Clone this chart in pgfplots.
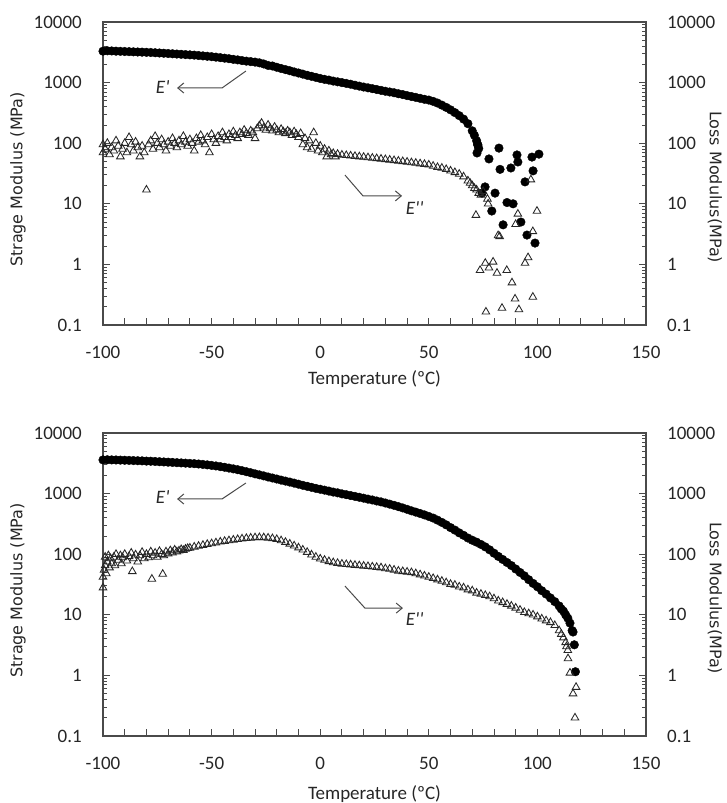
\documentclass[border=0pt]{standalone}
\usepackage{fontspec}
\setmainfont{Carlito}
\newfontfamily\labelfont{DejaVu Sans}
\usepackage{pgfplots}
\usepackage{pgfplotstable}
\pgfplotsset{compat=1.18}
\usetikzlibrary{arrows.meta}

\definecolor{axisgray}{HTML}{4A4A4A}
\definecolor{txt}{HTML}{262626}

% top panel, E' and E''
\pgfplotstableread{
T E
-100 3300
-98 3350
-96 3330
-94 3300
-92 3280
-90 3260
-88 3240
-86 3220
-84 3200
-82 3180
-80 3160
-78 3140
-76 3110
-74 3080
-72 3050
-70 3020
-68 2990
-66 2960
-64 2930
-62 2900
-60 2870
-58 2840
-56 2800
-54 2760
-52 2720
-50 2680
-48 2630
-46 2580
-44 2530
-42 2480
-40 2420
-38 2370
-36 2310
-34 2260
-32 2220
-30 2180
-28 2120
-26 2030
-24 1920
-22 1880
-20 1790
-18 1710
-16 1640
-14 1570
-12 1500
-10 1440
-8 1380
-6 1320
-4 1270
-2 1220
0 1170
2 1130
4 1100
6 1060
8 1030
10 1000
12 970
14 940
16 905
18 875
20 845
22 820
24 795
26 770
28 745
30 720
32 700
34 680
36 655
38 635
40 610
42 590
44 570
46 550
48 530
50 515
52 490
54 460
56 425
58 390
60 355
62 320
64 285
66 250
68 210
70 160
71 135
72 110
72.5 95
73 82
72.6 93
72.2 69
82.3 83
77.7 55
82.8 37
87.8 39
90.6 64
91 49
97.5 59
100.7 66
98 35
94.3 23
75.9 19
74.5 15
80.5 15
86 10.5
88.8 10
79 7.6
92.4 5
84.2 4.5
95.2 3.05
98.9 2.25
}\topstorage

\pgfplotstableread{
T E
-100 95
-100 70
-99 80
-98 100
-97 65
-96 85
-95 75
-94 110
-93 90
-92 60
-91 80
-90 100
-89 70
-88 125
-87 95
-86 75
-85 105
-84 85
-83 60
-82 90
-81 70
-80 17
-79 95
-78 110
-77 80
-76 130
-75 100
-74 85
-73 115
-72 95
-71 75
-70 105
-69 90
-68 120
-67 100
-66 85
-65 110
-64 95
-63 130
-62 105
-61 90
-60 115
-59 100
-58 75
-57 120
-56 105
-55 135
-54 110
-53 95
-52 125
-51 70
-50 140
-49 115
-48 100
-47 130
-46 115
-45 150
-44 125
-43 110
-42 140
-41 125
-40 155
-39 135
-38 120
-37 150
-36 140
-35 165
-34 145
-33 135
-32 160
-31 150
-30 120
-29 175
-28 195
-27 215
-26 180
-25 165
-24 200
-23 175
-22 160
-21 185
-20 165
-19 150
-18 170
-17 155
-16 145
-15 160
-14 150
-13 135
-12 155
-11 140
-10 125
-9 145
-8 95
-7 120
-6 85
-5 110
-4 80
-3 150
-2 100
-1 75
0 90
1 70
2 80
3 60
4 75
5 65
6 68
7 60
8 66
10 64
12 63
14 62
16 61
18 60
20 59
22 58
24 57
26 56
28 55
30 54
32 53
34 52
36 51
38 50
40 49
42 48
44 47
46 46
48 45
50 44
52 42
54 40
56 39
58 37
60 35
62 33
64 31
66 28
68 24
69 22
70 20
71 18
72 17
73 15
74 14
71.7 6.5
77.3 10
99.8 7.6
91 6.8
90 4.6
97.9 3.5
81.9 3.0
82.6 2.9
95.7 1.3
94.3 1.05
76 1.05
79.6 1.1
73.6 0.8
77.7 0.88
81.4 0.72
85.9 0.8
88.3 0.5
89.7 0.27
97.9 0.29
83.7 0.19
76.3 0.165
91.5 0.18
97 25
75 16
77 12
}\toploss

% bottom panel
\pgfplotstableread{
T E
-100 3600
-98 3620
-96 3600
-94 3590
-92 3570
-90 3550
-88 3530
-86 3510
-84 3490
-82 3470
-80 3440
-78 3420
-76 3390
-74 3360
-72 3330
-70 3300
-68 3270
-66 3240
-64 3210
-62 3180
-60 3150
-58 3120
-56 3080
-54 3030
-52 2980
-50 2920
-48 2860
-46 2790
-44 2720
-42 2640
-40 2560
-38 2480
-36 2390
-34 2300
-32 2210
-30 2120
-28 2040
-26 1960
-24 1880
-22 1810
-20 1740
-18 1670
-16 1610
-14 1550
-12 1490
-10 1430
-8 1370
-6 1320
-4 1270
-2 1220
0 1180
2 1140
4 1100
6 1060
8 1030
10 990
12 960
14 930
16 900
18 870
20 840
22 810
24 785
26 755
28 730
30 700
32 670
34 640
36 610
38 580
40 550
42 520
44 495
46 470
48 445
50 420
52 395
54 365
56 335
58 305
60 275
62 250
64 225
66 205
68 185
70 170
72 158
74 145
76 132
78 118
80 104
82 92
84 82
86 73
88 65
90 57
92 50
94 44
96 38
98 33
100 29
102 25
104 22
106 19
108 16.5
110 14
111 12.5
112 11.5
113 10
114 8.8
115 7.3
116 5.5
116.4 5.2
117 3.2
117.5 1.15
}\botstorage

\pgfplotstableread{
T E
-100 28
-100 42
-99.5 55
-99 65
-99 90
-98.5 48
-98 75
-97.5 95
-97 60
-96.5 85
-96 70
-95 90
-94.5 65
-94 100
-93 80
-92 95
-91.5 70
-91 88
-90 100
-89 78
-88 92
-87 105
-86.5 52
-86 85
-85 98
-84 75
-83 95
-82 108
-81 85
-80 100
-79 88
-78 110
-77.5 39
-77 95
-76 105
-75 90
-74 112
-73 100
-72.5 47
-72 95
-71 110
-70 102
-69 115
-68 106
-67 118
-66 110
-65 114
-64 120
-63 116
-62 122
-61 125
-60 127
-58 132
-56 136
-54 141
-52 146
-50 150
-48 155
-46 160
-44 164
-42 168
-40 172
-38 176
-36 180
-34 183
-32 186
-30 188
-28 189
-26 188
-24 186
-22 182
-20 176
-18 168
-16 158
-14 148
-12 138
-10 128
-8 118
-6 108
-4 98
-2 90
0 84
2 80
4 76
6 73
8 71
10 69
12 68
14 67
16 66
18 65
20 64
22 63
24 62
26 61
28 60
30 58
32 57
34 55
36 53
38 52
40 51
42 50
44 48
46 46
48 44
50 42
52 40
54 38
56 36
58 34
60 32
62 31
64 29
66 28
68 26
70 25
72 23
74 22
76 21
78 20
80 18.5
82 17
84 16
86 15
88 14
90 13
92 12
94 11
96 10.5
98 10
100 9.3
102 8.6
104 8
106 7.5
108 6.7
110 5.5
111 4.8
112 4.2
113 3.5
113.4 3.0
114 2.6
114.1 1.9
115 1.1
116.4 0.5
117.8 0.64
117.3 0.2
}\botloss

\tikzset{
  mystor/.style={mark=*, mark size=4.3pt, mark options={fill=black, draw=black}},
  myloss/.style={mark=triangle, mark size=4.4pt, mark options={draw=black!85, line width=0.85pt, fill=none}},
  myann/.style={draw=axisgray, line width=1pt},
  etext/.style={font=\fontsize{19}{22}\selectfont\itshape, text=txt},
}

\begin{document}
\begin{tikzpicture}
\useasboundingbox (0,0) rectangle (726pt,-803pt);

% ---------- upper panel ----------
\begin{axis}[at={(103pt,-325pt)}, anchor=south west,
    scale only axis, width=543pt, height=303pt,
    xmin=-100, xmax=150, ymode=log, ymin=0.1, ymax=10000,
    axis line style={axisgray, line width=1.1pt},
    tick style={axisgray, line width=0.9pt},
    major tick length=7pt, minor tick length=4pt,
    tick align=inside,
    ytick={0.1,1,10,100,1000,10000},
    yticklabels={0.1,1,10,100,1000,10000},
    minor ytick={0.2,0.3,0.4,0.5,0.6,0.7,0.8,0.9,2,3,4,5,6,7,8,9,20,30,40,50,60,70,80,90,200,300,400,500,600,700,800,900,2000,3000,4000,5000,6000,7000,8000,9000},
    xtick={-100,-90,...,150},
    xticklabels={-100,,,,,-50,,,,,0,,,,,50,,,,,100,,,,,150},
    xtick pos=bottom, ytick pos=left,
    ticklabel style={font=\fontsize{19}{22}\selectfont, text=txt, inner sep=0pt},
    xticklabel style={anchor=center, yshift=-27pt},
    yticklabel style={anchor=east, xshift=-21pt},
    xlabel={Temperature (ºC)},
    xlabel style={font=\fontsize{19}{22}\selectfont, text=txt, at={(axis description cs:0.5,-0.18)}, anchor=center},
    ylabel={\labelfont Strage Modulus (MPa)},
    ylabel style={font=\fontsize{16}{18}\selectfont, text=txt, at={(axis description cs:-0.1565,0.48)}, anchor=center},
    ]
\addplot[only marks, mystor] table[x=T, y=E] {\topstorage};
\addplot[only marks, myloss] table[x=T, y=E] {\toploss};
\draw[myann, -{Straight Barb[length=6pt, width=10pt]}] (axis cs:-34.2,1552) -- (axis cs:-45.2,815) -- (axis cs:-65.9,815);
\node[etext] at (axis cs:-72.5,845) {E\textquotesingle};
\draw[myann, -{Straight Barb[length=6pt, width=10pt]}] (axis cs:11.4,29.8) -- (axis cs:19.7,13.5) -- (axis cs:37.7,13.5);
\node[etext] at (axis cs:43.5,8.5) {E\textquotesingle\textquotesingle};
\end{axis}
\begin{axis}[at={(103pt,-325pt)}, anchor=south west,
    scale only axis, width=543pt, height=303pt,
    xmin=-100, xmax=150, ymode=log, ymin=0.1, ymax=10000,
    axis x line=none, axis y line*=right,
    axis line style={axisgray, line width=1.1pt},
    tick style={axisgray, line width=0.9pt},
    major tick length=7pt, minor tick length=4pt,
    tick align=inside,
    ytick={0.1,1,10,100,1000,10000},
    yticklabels={0.1,1,10,100,1000,10000},
    minor ytick={0.2,0.3,0.4,0.5,0.6,0.7,0.8,0.9,2,3,4,5,6,7,8,9,20,30,40,50,60,70,80,90,200,300,400,500,600,700,800,900,2000,3000,4000,5000,6000,7000,8000,9000},
    ticklabel style={font=\fontsize{19}{22}\selectfont, text=txt, inner sep=0pt},
    yticklabel style={anchor=west, xshift=21pt},
    ylabel={\labelfont Loss Modulus(MPa)},
    ylabel style={font=\fontsize{16}{18}\selectfont, text=txt, at={(axis description cs:1.127,0.455)}, anchor=center, rotate=180},
    ]
\addplot[draw=none] coordinates {(0,1)};
\end{axis}

% ---------- lower panel ----------
\begin{axis}[at={(103pt,-736pt)}, anchor=south west,
    scale only axis, width=543pt, height=303pt,
    xmin=-100, xmax=150, ymode=log, ymin=0.1, ymax=10000,
    axis line style={axisgray, line width=1.1pt},
    tick style={axisgray, line width=0.9pt},
    major tick length=7pt, minor tick length=4pt,
    tick align=inside,
    ytick={0.1,1,10,100,1000,10000},
    yticklabels={0.1,1,10,100,1000,10000},
    minor ytick={0.2,0.3,0.4,0.5,0.6,0.7,0.8,0.9,2,3,4,5,6,7,8,9,20,30,40,50,60,70,80,90,200,300,400,500,600,700,800,900,2000,3000,4000,5000,6000,7000,8000,9000},
    xtick={-100,-90,...,150},
    xticklabels={-100,,,,,-50,,,,,0,,,,,50,,,,,100,,,,,150},
    xtick pos=bottom, ytick pos=left,
    ticklabel style={font=\fontsize{19}{22}\selectfont, text=txt, inner sep=0pt},
    xticklabel style={anchor=center, yshift=-27pt},
    yticklabel style={anchor=east, xshift=-21pt},
    xlabel={Temperature (ºC)},
    xlabel style={font=\fontsize{19}{22}\selectfont, text=txt, at={(axis description cs:0.5,-0.19)}, anchor=center},
    ylabel={\labelfont Strage Modulus (MPa)},
    ylabel style={font=\fontsize{16}{18}\selectfont, text=txt, at={(axis description cs:-0.1565,0.48)}, anchor=center},
    ]
\addplot[only marks, mystor] table[x=T, y=E] {\botstorage};
\addplot[only marks, myloss] table[x=T, y=E] {\botloss};
\draw[myann, -{Straight Barb[length=6pt, width=10pt]}] (axis cs:-34.2,1496) -- (axis cs:-45.2,815) -- (axis cs:-65.9,815);
\node[etext] at (axis cs:-72.5,880) {E\textquotesingle};
\draw[myann, -{Straight Barb[length=6pt, width=10pt]}] (axis cs:11.4,29.8) -- (axis cs:20.6,12.9) -- (axis cs:38.1,12.9);
\node[etext] at (axis cs:43.5,8.5) {E\textquotesingle\textquotesingle};
\end{axis}
\begin{axis}[at={(103pt,-736pt)}, anchor=south west,
    scale only axis, width=543pt, height=303pt,
    xmin=-100, xmax=150, ymode=log, ymin=0.1, ymax=10000,
    axis x line=none, axis y line*=right,
    axis line style={axisgray, line width=1.1pt},
    tick style={axisgray, line width=0.9pt},
    major tick length=7pt, minor tick length=4pt,
    tick align=inside,
    ytick={0.1,1,10,100,1000,10000},
    yticklabels={0.1,1,10,100,1000,10000},
    minor ytick={0.2,0.3,0.4,0.5,0.6,0.7,0.8,0.9,2,3,4,5,6,7,8,9,20,30,40,50,60,70,80,90,200,300,400,500,600,700,800,900,2000,3000,4000,5000,6000,7000,8000,9000},
    ticklabel style={font=\fontsize{19}{22}\selectfont, text=txt, inner sep=0pt},
    yticklabel style={anchor=west, xshift=21pt},
    ylabel={\labelfont Loss Modulus(MPa)},
    ylabel style={font=\fontsize{16}{18}\selectfont, text=txt, at={(axis description cs:1.127,0.455)}, anchor=center, rotate=180},
    ]
\addplot[draw=none] coordinates {(0,1)};
\end{axis}
\end{tikzpicture}
\end{document}
